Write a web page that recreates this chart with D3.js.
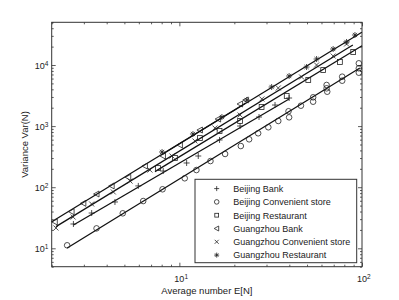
<!DOCTYPE html>
<html>
<head>
<meta charset="utf-8">
<script src="https://cdn.jsdelivr.net/npm/d3@7/dist/d3.min.js"></script>
<style>
  html, body { margin: 0; padding: 0; background: #fff; overflow: hidden; }
  svg { display: block; }
</style>
</head>
<body>
<div id="chart"></div>
<script>
// series names, in legend order
const seriesNames = ["Beijing Bank", "Beijing Convenient store", "Beijing Restaurant",
  "Guangzhou Bank", "Guangzhou Convenient store", "Guangzhou Restaurant"];
const markers = ["plus", "circle", "square", "triangle", "cross", "star"];

// measured points, E[N] and Var(N)
const bjBankE = [2.63, 3.31, 4.44, 5.96, 8.16, 10.96, 12.69, 16.6, 21.5, 27.3, 33.4, 39.9];
const bjBankV = [25.0, 37.8, 57.3, 105, 184, 249, 324, 593, 1004, 1409, 2213, 2884];

const bjConvE = [2.43, 3.52, 4.9, 6.34, 8.09, 10.7, 12.4, 14.8, 17.8, 21.7, 24.1, 27.0, 30.7, 34.8,
  39.6, 39.9, 46.3, 54.0, 54.0, 64.0, 64.0, 64.5, 77.9, 77.9, 96.1, 96.1, 96.1];
const bjConvV = [11.2, 21.2, 37.4, 59.4, 92.5, 140, 191, 268, 350, 472, 608, 763, 957, 1213,
  1750, 1393, 2158, 2960, 2508, 4710, 4155, 3656, 6440, 5535, 10660, 8830, 7480];

const bjRestE = [7.64, 9.46, 12.96, 16.6, 21.5, 28.2, 38.7, 50.8, 61.3, 75.7, 89.5];
const bjRestV = [206, 301, 638, 832, 1213, 2055, 3110, 5686, 8280, 11200, 16330];

const gzBankE = [2.08, 2.57, 2.98, 3.52, 4.26, 5.25, 6.48, 8.13, 10.07, 12.96, 16.3, 21.5, 23.1];
const gzBankV = [27.0, 39.7, 54.5, 77.4, 105, 145, 222, 324, 491, 863, 1306, 2300, 2675];

const gzConvE = [2.11, 2.62, 3.31, 4.35, 5.37, 6.90, 9.11, 12.17, 15.66, 21.5, 28.3, 34.8, 46.7, 56.4, 69.5, 82.3];
const gzConvV = [21.5, 32.5, 53.1, 83.5, 126, 191, 324, 571, 931, 1520, 2780, 4206, 6365, 10000, 14030, 22080];

const gzRestE = [8.04, 11.87, 17.1, 23.4, 32.0, 39.9, 49.7, 56.4, 69.5, 82.3, 91.5];
const gzRestV = [377, 743, 1409, 2675, 4365, 6607, 9268, 12530, 18280, 23800, 30980];

// fitted power-law lines: E range and Var at both ends
const fitE = [[2.63, 39.9], [2.43, 97.3], [7.35, 100], [2.0, 23.1], [2.11, 89.1], [8.04, 99.8]];
const fitV = [[24.1, 2780], [10.1, 8930], [180, 20700], [27.2, 2390], [22.6, 21200], [343, 34300]];

const xTickLabels = [10, 100];
const yTickLabels = [10, 100, 1000, 10000];

const width = 399, height = 300;
const margin = {top: 22.3, right: 37, bottom: 33.3, left: 51.7};
const innerWidth = width - margin.left - margin.right;
const innerHeight = height - margin.top - margin.bottom;
const fontFamily = "Liberation Sans, Arial, sans-serif";

const pointsE = [bjBankE, bjConvE, bjRestE, gzBankE, gzConvE, gzRestE];
const pointsV = [bjBankV, bjConvV, bjRestV, gzBankV, gzConvV, gzRestV];

const svg = d3.select("#chart")
  .append("svg")
    .attr("width", width)
    .attr("height", height)
    .attr("font-family", fontFamily);

const xScale = d3.scaleLog().domain([2, 100]).range([0, innerWidth]);
const yScale = d3.scaleLog().domain([5, 50000]).range([innerHeight, 0]);

const plot = svg.append("g")
  .attr("transform", `translate(${margin.left},${margin.top})`);

// ticks: all log ticks, decades get the longer ones
const xTicks = xScale.ticks();
const yTicks = yScale.ticks();
const isMajor = v => Math.abs(Math.log10(v) - Math.round(Math.log10(v))) < 1e-6;

const drawAxis = (axisFn, scale, ticks, transform) => {
  plot.append("g")
    .attr("transform", transform)
    .call(axisFn(scale).tickValues(ticks.filter(t => !isMajor(t))).tickSize(-2).tickFormat(""))
    .call(g => g.select(".domain").remove());
  plot.append("g")
    .attr("transform", transform)
    .call(axisFn(scale).tickValues(ticks.filter(isMajor)).tickSize(-4).tickFormat(""))
    .call(g => g.select(".domain").remove());
};
drawAxis(d3.axisBottom, xScale, xTicks, `translate(0,${innerHeight})`);
drawAxis(d3.axisTop, xScale, xTicks, "translate(0,0)");
drawAxis(d3.axisLeft, yScale, yTicks, "translate(0,0)");
drawAxis(d3.axisRight, yScale, yTicks, `translate(${innerWidth},0)`);
plot.selectAll(".tick line").attr("stroke", "#333").attr("stroke-width", 0.8);
plot.selectAll(".tick text").remove();

// frame
plot.append("rect")
  .attr("width", innerWidth)
  .attr("height", innerHeight)
  .attr("fill", "none")
  .attr("stroke", "#333")
  .attr("stroke-width", 1);

// tick labels 10^n, one text each with a raised exponent
const labels = svg.append("g").attr("class", "tick-labels");
const expLabel = (x, y, v) => {
  const t = labels.append("text")
    .attr("x", x)
    .attr("y", y)
    .attr("font-family", fontFamily)
    .attr("font-size", 9)
    .attr("fill", "#222");
  t.append("tspan").text("10");
  t.append("tspan")
    .attr("font-size", 6.5)
    .attr("baseline-shift", "super")
    .text(Math.round(Math.log10(v)));
};
xTickLabels.forEach(v => expLabel(margin.left + xScale(v) - 5, margin.top + innerHeight + 15, v));
yTickLabels.forEach(v => expLabel(margin.left - 17, margin.top + yScale(v) + 3.5, v));

// axis titles
svg.append("text")
  .attr("x", margin.left + innerWidth / 2)
  .attr("y", 294)
  .attr("text-anchor", "middle")
  .attr("font-family", fontFamily)
  .attr("font-size", 9.5)
  .attr("fill", "#222")
  .text("Average number E[N]");
svg.append("text")
  .attr("transform", `translate(27.5,${margin.top + innerHeight / 2}) rotate(-90)`)
  .attr("text-anchor", "middle")
  .attr("font-family", fontFamily)
  .attr("font-size", 9.5)
  .attr("fill", "#222")
  .text("Variance Var(N)");

// marker shapes
const drawMarker = (g, type, cx, cy, s = 2.5) => {
  let el;
  if (type === "circle") {
    el = g.append("circle").attr("cx", cx).attr("cy", cy).attr("r", s + 0.3);
  } else if (type === "square") {
    el = g.append("rect").attr("x", cx - s + 0.1).attr("y", cy - s + 0.1)
      .attr("width", 2 * s - 0.2).attr("height", 2 * s - 0.2);
  } else {
    let p;
    const t = s + 0.5, d = s * 0.84;
    if (type === "plus") p = `M${cx - t},${cy}H${cx + t}M${cx},${cy - t}V${cy + t}`;
    if (type === "cross") p = `M${cx - s},${cy - s}L${cx + s},${cy + s}M${cx - s},${cy + s}L${cx + s},${cy - s}`;
    if (type === "triangle") p = `M${cx - t},${cy}L${cx + s},${cy - t}L${cx + s},${cy + t}Z`;
    if (type === "star") p = `M${cx - t},${cy}H${cx + t}M${cx},${cy - t}V${cy + t}` +
      `M${cx - d},${cy - d}L${cx + d},${cy + d}M${cx - d},${cy + d}L${cx + d},${cy - d}`;
    el = g.append("path").attr("d", p);
  }
  el.attr("fill", "none").attr("stroke", "#222").attr("stroke-width", 0.8);
};

const lineGen = d3.line().x(d => xScale(d[0])).y(d => yScale(d[1]));

seriesNames.forEach((name, i) => {
  const g = plot.append("g").attr("class", `series-${i}`);
  g.append("path")
    .attr("d", lineGen(d3.zip(fitE[i], fitV[i])))
    .attr("fill", "none")
    .attr("stroke", "#111")
    .attr("stroke-width", 1.3);
  pointsE[i].forEach((e, j) => drawMarker(g, markers[i], xScale(e), yScale(pointsV[i][j])));
});

// legend
const legend = svg.append("g").attr("transform", "translate(195,179.3)");
legend.append("rect")
  .attr("width", 161.7)
  .attr("height", 83.4)
  .attr("fill", "#fff")
  .attr("stroke", "#333")
  .attr("stroke-width", 1);
seriesNames.forEach((name, i) => {
  const cy = 9.3 + i * 13.3;
  drawMarker(legend, markers[i], 21.7, cy, 2);
  legend.append("text")
    .attr("x", 38.3)
    .attr("y", cy + 3.4)
    .attr("font-family", fontFamily)
    .attr("font-size", 9)
    .attr("fill", "#222")
    .text(name);
});
</script>
</body>
</html>
